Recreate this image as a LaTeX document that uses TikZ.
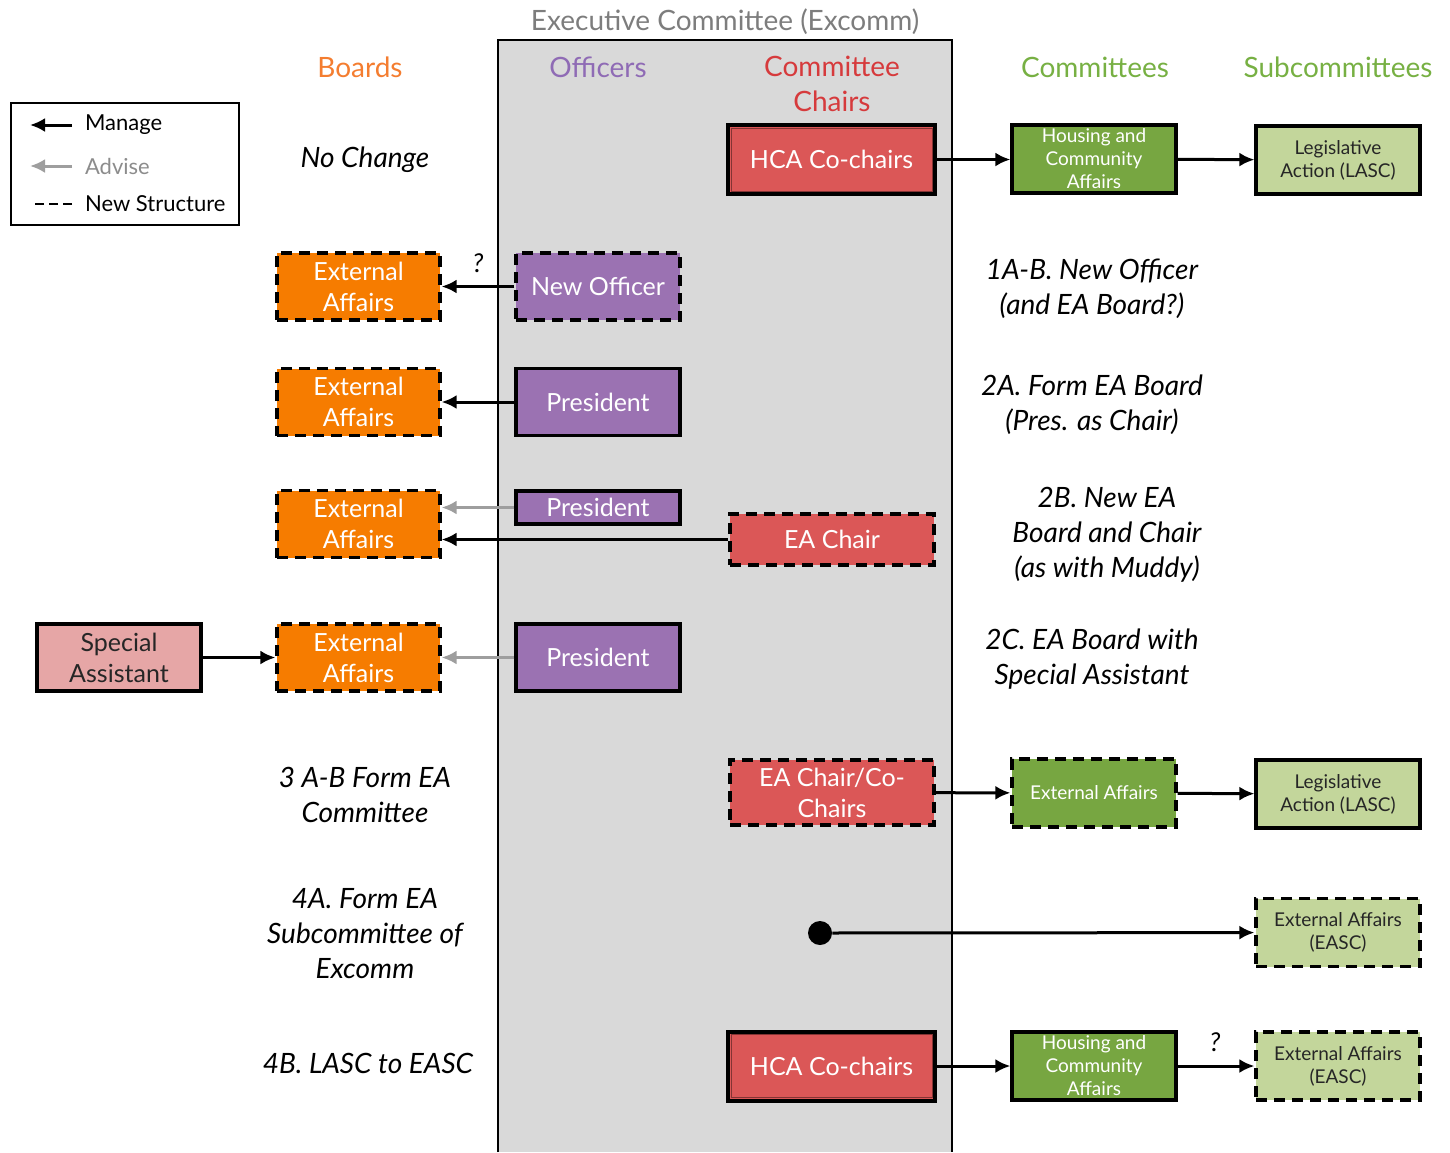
\documentclass[tikz,border=0pt]{standalone}
\usepackage{fontspec}
\setmainfont{Lato}
\usetikzlibrary{arrows.meta}

\definecolor{boardorange}{RGB}{246,124,0}
\definecolor{officerpurple}{RGB}{155,114,178}
\definecolor{chairred}{RGB}{219,87,87}
\definecolor{cmtgreen}{RGB}{119,166,65}
\definecolor{subgreen}{RGB}{195,214,155}
\definecolor{assistpink}{RGB}{230,166,166}
\definecolor{excommgray}{RGB}{217,217,217}
\definecolor{titlegray}{RGB}{125,125,125}
\definecolor{boardhead}{RGB}{244,125,48}
\definecolor{officerhead}{RGB}{143,107,181}
\definecolor{chairhead}{RGB}{214,58,60}
\definecolor{cmthead}{RGB}{119,176,67}

\tikzset{
  unit/.style={draw=black, line width=1.6pt, align=center, inner sep=1pt,
    text=white, font=\fontsize{12.5}{15.5}\selectfont},
  newunit/.style={unit, dash pattern=on 5.5pt off 3.5pt},
  board/.style={fill=boardorange, minimum width=81.5pt, minimum height=33.5pt},
  officer/.style={fill=officerpurple, minimum width=82pt, minimum height=33.5pt},
  chair/.style={fill=chairred, minimum width=102pt, minimum height=33pt},
  cmt/.style={fill=cmtgreen, minimum width=82pt, minimum height=34pt,
    font=\fontsize{9.5}{11.5}\selectfont},
  subcmt/.style={fill=subgreen, text=black!85, minimum width=82pt, minimum height=34pt,
    font=\fontsize{9.5}{11.5}\selectfont},
  head/.style={font=\fontsize{14}{17.5}\selectfont, align=center},
  option/.style={font=\itshape\fontsize{14}{17.5}\selectfont, align=center},
  manage/.style={-{Latex[length=7.5pt,width=7pt]}, line width=1.5pt},
  advise/.style={manage, draw=black!38},
}

\begin{document}
\begin{tikzpicture}[x=0.5pt, y=-0.5pt]
\useasboundingbox (0,0) rectangle (1450,1152);

% excomm column
\fill[excommgray] (498,40) rectangle (952,1152);
\draw[line width=1.2pt] (498,1152) -- (498,40) -- (952,40) -- (952,1152);
\node (excomm) [head, text=titlegray] at (725,22) {Executive Committee (Excomm)};

% headings
\node (hboards) [head, text=boardhead] at (360,67) {Boards};
\node (hofficers) [head, text=officerhead] at (598,67) {Officers};
\node (hchairs) [head, text=chairhead] at (832,84) {Committee\\Chairs};
\node (hcmts) [head, text=cmthead] at (1095,67) {Committees};
\node (hsubs) [head, text=cmthead] at (1338,67) {Subcommittees};

% legend
\draw[line width=1.2pt] (11,103) rectangle (239,225);
\coordinate (lm0) at (72,125); \coordinate (lm1) at (30,125);
\coordinate (la0) at (72,166); \coordinate (la1) at (30,166);
\coordinate (ln0) at (72,204); \coordinate (ln1) at (30,204);
\draw[manage] (lm0) -- (lm1);
\draw[advise] (la0) -- (la1);
\draw[line width=1.3pt, dash pattern=on 4.5pt off 2.5pt] (ln0) -- (ln1);
\node (lmanage) [anchor=west, font=\fontsize{11}{13}\selectfont] at (78,125) {Manage};
\node (ladvise) [anchor=west, text=black!45, font=\fontsize{11}{13}\selectfont] at (78,166) {Advise};
\node (lnew) [anchor=west, font=\fontsize{11}{13}\selectfont] at (78,204) {New Structure};

% no change
\node (opt0) [option] at (365,160) {No Change};
\node (hca1) [unit, chair, line width=2pt, minimum width=103.5pt, minimum height=34.5pt] at (831.5,159.5) {HCA Co-chairs};
\draw[chairred!60!black, line width=0.5pt] ([xshift=2.5pt,yshift=-2.5pt]hca1.north west) rectangle ([xshift=-2.5pt,yshift=2.5pt]hca1.south east);
\node (hcac1) [unit, cmt] at (1094,159) {Housing and\\Community\\Affairs};
\node (lasc1) [unit, subcmt] at (1338,160) {Legislative\\Action (LASC)};
\draw[manage] (hca1.east) -- (hca1.east -| hcac1.west);
\draw[manage] (hcac1) -- (lasc1);

% 1A-B
\node (ea1) [newunit, board] at (358.5,286.5) {External\\Affairs};
\node (newoff) [newunit, officer] at (598,286.5) {New Officer};
\draw[manage] (newoff) -- (ea1);
\node (q1) [font=\itshape\fontsize{13}{15}\selectfont] at (478,263) {?};
\node (opt1) [option] at (1092,289) {1A-B. New Officer\\(and EA Board?)};

% 2A
\node (ea2) [newunit, board] at (358.5,402) {External\\Affairs};
\node (pres2) [unit, officer] at (598,402) {President};
\draw[manage] (pres2) -- (ea2);
\node (opt2) [option] at (1092,404.5) {2A. Form EA Board\\(Pres. as Chair)};

% 2B
\node (ea3) [newunit, board] at (358.5,524) {External\\Affairs};
\node (pres3) [unit, officer, minimum height=16.5pt] at (598,507.5) {President};
\node (eachair) [newunit, chair, minimum height=25.5pt] at (832,539.5) {EA Chair};
\draw[advise] (pres3.west) -- (pres3.west -| ea3.east);
\draw[manage] (eachair.west) -- (eachair.west -| ea3.east);
\node (opt3) [option] at (1107,535) {2B. New EA\\Board and Chair\\(as with Muddy)};

% 2C
\node (assist) [unit, fill=assistpink, text=black!85, minimum width=82pt, minimum height=33.5pt] at (119,657.5) {Special\\Assistant};
\node (ea4) [newunit, board] at (358.5,657.5) {External\\Affairs};
\node (pres4) [unit, officer] at (598,657.5) {President};
\draw[manage] (assist) -- (ea4);
\draw[advise] (pres4) -- (ea4);
\node (opt4) [option] at (1092,659.5) {2C. EA Board with\\Special Assistant};

% 3A-B
\node (opt5) [option] at (365,794.5) {3 A-B Form EA\\Committee};
\node (eacochair) [newunit, chair, minimum height=32.5pt] at (832,792.5) {EA Chair/Co-\\Chairs};
\node (eacmt) [newunit, cmt] at (1094,793) {External Affairs};
\node (lasc2) [unit, subcmt] at (1338,794) {Legislative\\Action (LASC)};
\draw[manage] (eacochair) -- (eacmt);
\draw[manage] (eacmt) -- (lasc2);

% 4A
\node (opt6) [option] at (365,934) {4A. Form EA\\Subcommittee of\\Excomm};
\node (dot) [circle, fill=black, inner sep=0pt, minimum size=12pt] at (820,933) {};
\node (easc1) [newunit, subcmt] at (1338,932.5) {External Affairs\\(EASC)};
\draw[manage] (dot) -- (easc1);

% 4B
\node (opt7) [option] at (368,1063) {4B. LASC to EASC};
\node (hca2) [unit, chair, line width=2pt, minimum width=103.5pt, minimum height=34.5pt] at (831.5,1066) {HCA Co-chairs};
\draw[chairred!60!black, line width=0.5pt] ([xshift=2.5pt,yshift=-2.5pt]hca2.north west) rectangle ([xshift=-2.5pt,yshift=2.5pt]hca2.south east);
\node (hcac2) [unit, cmt] at (1094,1066) {Housing and\\Community\\Affairs};
\node (easc2) [newunit, subcmt] at (1338,1066) {External Affairs\\(EASC)};
\draw[manage] (hca2) -- (hcac2);
\draw[manage] (hcac2) -- (easc2);
\node (q2) [font=\itshape\fontsize{13}{15}\selectfont] at (1215,1042) {?};
\end{tikzpicture}
\end{document}
